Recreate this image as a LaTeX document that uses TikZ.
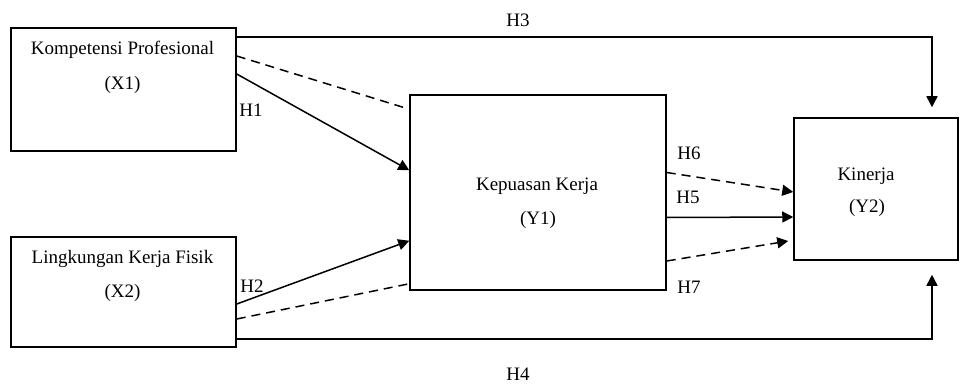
\documentclass[tikz,border=0pt]{standalone}
\usepackage{fontspec}
\setmainfont{Liberation Serif}
\usetikzlibrary{arrows.meta}
\begin{document}
\begin{tikzpicture}[x=1pt,y=-1pt,
  box/.style={draw,line width=1.5pt,inner sep=0pt},
  txt/.style={font=\fontsize{19}{22}\selectfont,inner sep=0pt},
  conn/.style={line width=1.5pt},
  arr/.style={conn,-{Triangle[length=11pt,width=11pt]}},
  dsh/.style={dash pattern=on 9pt off 6pt}]
\useasboundingbox (0,0) rectangle (962,385);
\node[box,minimum width=225pt,minimum height=123pt] (x1) at (123.5,89.5) {};
\node[box,minimum width=225pt,minimum height=110pt] (x2) at (123.5,292) {};
\node[box,minimum width=256pt,minimum height=195pt] (y1) at (538,192.5) {};
\node[box,minimum width=164pt,minimum height=142pt] (y2) at (876,189) {};
\node[txt] (tx1) at (122.5,50) {Kompetensi Profesional};
\node[txt] (tx1b) at (122.5,85) {(X1)};
\node[txt] (tx2) at (122.5,259) {Lingkungan Kerja Fisik};
\node[txt] (tx2b) at (122.5,293) {(X2)};
\node[txt] (ty1) at (537,186) {Kepuasan Kerja};
\node[txt] (ty1b) at (538,220) {(Y1)};
\node[txt] (ty2) at (866,176) {Kinerja};
\node[txt] (ty2b) at (867,208) {(Y2)};
\node[txt] (h1) at (251,110) {H1};
\node[txt] (h2) at (252,286) {H2};
\node[txt] (h3) at (518,20) {H3};
\node[txt] (h4) at (518,374) {H4};
\node[txt] (h5) at (688,197) {H5};
\node[txt] (h6) at (689,153) {H6};
\node[txt] (h7) at (689,287) {H7};
% H3, H4
\draw[arr] ([yshift=52.5pt]x1.east) -| ([xshift=56pt,yshift=10pt]y2.north);
\draw[arr] ([yshift=-47pt]x2.east) -| ([xshift=56pt,yshift=-14pt]y2.south);
% X1 -> Y1
\draw[conn,dsh] ([yshift=33.5pt]x1.east) -- ([xshift=-3pt,yshift=-14pt]y1.north west);
\draw[arr] ([yshift=15.5pt]x1.east) -- ([yshift=-76pt]y1.north west);
% X2 -> Y1
\draw[arr] ([yshift=-12pt]x2.east) -- ([yshift=50pt]y1.south west);
\draw[conn,dsh] ([yshift=-27pt]x2.east) -- ([yshift=7pt]y1.south west);
% Y1 -> Y2
\draw[arr,dsh] ([yshift=20pt]y1.east) -- ([yshift=-3pt]y2.west);
\draw[arr] ([yshift=-25pt]y1.east) -- ([yshift=-28pt]y2.west);
\draw[arr,dsh] ([yshift=-68.5pt]y1.east) -- ([xshift=-5pt,yshift=-52pt]y2.west);
\end{tikzpicture}
\end{document}
